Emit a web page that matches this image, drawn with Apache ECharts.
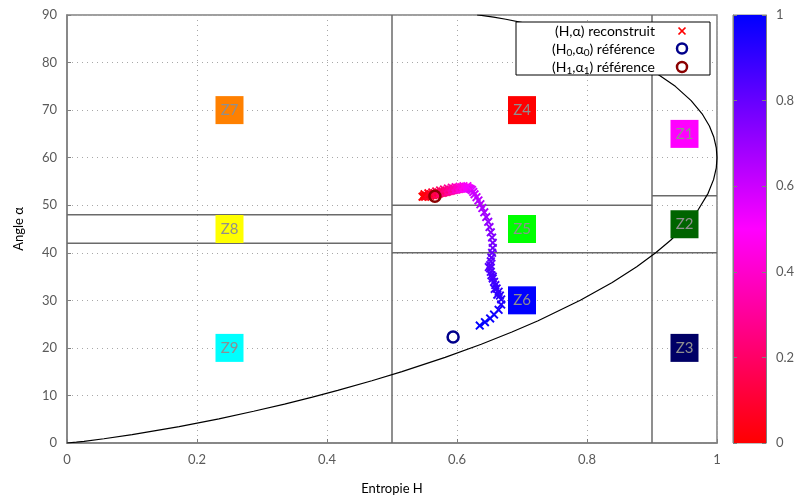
<!DOCTYPE html>
<html><head><meta charset="utf-8">
<script src="https://cdn.jsdelivr.net/npm/echarts@6/dist/echarts.min.js"></script>
<style>html,body{margin:0;padding:0;background:#fff}#c{width:798px;height:500px}</style>
</head><body><div id="c"></div>
<script>
// ---- data ----
const xTicks = [0, 0.2, 0.4, 0.6, 0.8, 1];
const yTicks = [0, 10, 20, 30, 40, 50, 60, 70, 80, 90];
const cbTicks = [0, 0.2, 0.4, 0.6, 0.8, 1];

// zone boundaries: [H1, A1, H2, A2]
const zoneSegments = [
  [0.5, 0, 0.5, 90],
  [0.9, 0, 0.9, 90],
  [0, 48, 0.5, 48],
  [0, 42, 0.5, 42],
  [0.5, 50, 0.9, 50],
  [0.5, 40, 0.9, 40],
  [0.9, 52, 1, 52],
  [0.9, 40, 1, 40]
];

// feasible-region boundary curve
const curveH = [0, 0.0144, 0.0262, 0.0568, 0.1002, 0.1726, 0.2337, 0.2871, 0.3347, 0.3775, 0.4165, 0.4690, 0.5153, 0.5817, 0.6373, 0.6845, 0.7248, 0.7897, 0.8388, 0.8765, 0.9057, 0.9286, 0.9464, 0.9713, 0.9863, 0.9947, 0.9989, 1.0,
                0.9989, 0.9952, 0.9883, 0.9771, 0.9602, 0.9359, 0.9011, 0.8509, 0.8096, 0.7752, 0.7324, 0.7065, 0.6752, 0.6563, 0.6375, 0.6309];
const curveA = [0, 0.18, 0.36, 0.89, 1.76, 3.46, 5.09, 6.67, 8.18, 9.64, 11.05, 13.08, 15.0, 18.0, 20.77, 23.33, 25.71, 30.0, 33.75, 37.06, 40.0, 42.63, 45.0, 49.09, 52.5, 55.38, 57.86, 60.0,
                62.07, 64.29, 66.67, 69.23, 72.0, 75.0, 78.26, 81.82, 84.11, 85.71, 87.38, 88.24, 89.11, 89.55, 89.91, 90.0];

// zone labels
const zoneNames = ['Z1', 'Z2', 'Z3', 'Z4', 'Z5', 'Z6', 'Z7', 'Z8', 'Z9'];
const zoneH = [0.95, 0.95, 0.95, 0.70, 0.70, 0.70, 0.25, 0.25, 0.25];
const zoneA = [65, 46, 20, 70, 45, 30, 70, 45, 20];
const zoneColors = ['#ff00ff', '#006400', '#000066', '#ff0000', '#00ff00', '#0000ff', '#ff8000', '#ffff00', '#00ffff'];

// reconstructed trajectory (H, alpha, colour parameter)
const trajH = [0.547, 0.549, 0.551, 0.553, 0.555, 0.557, 0.559, 0.561, 0.563, 0.565, 0.567, 0.569, 0.571, 0.573, 0.575, 0.577, 0.579, 0.581, 0.583, 0.585,
  0.587, 0.589, 0.591, 0.593, 0.595, 0.597, 0.599, 0.601, 0.603, 0.605, 0.607, 0.609, 0.611, 0.613, 0.615, 0.617, 0.619, 0.621, 0.623, 0.625,
  0.627, 0.630, 0.633, 0.636, 0.639, 0.642, 0.645, 0.648, 0.650, 0.652, 0.654, 0.655, 0.655, 0.654,
  0.653, 0.652, 0.651, 0.651, 0.652, 0.653, 0.655, 0.657, 0.659, 0.661, 0.664, 0.666, 0.668,
  0.649, 0.655, 0.658, 0.662,
  0.668, 0.664, 0.657, 0.651, 0.643, 0.635,
  0.550, 0.556, 0.562, 0.568, 0.574, 0.580, 0.586, 0.592, 0.598, 0.604, 0.610, 0.616];
const trajA = [51.8, 51.9, 51.8, 52.0, 51.9, 52.1, 52.0, 52.2, 52.1, 52.3, 52.2, 52.4, 52.4, 52.5, 52.6, 52.6, 52.7, 52.8, 52.8, 52.9,
  53.0, 53.0, 53.1, 53.2, 53.2, 53.3, 53.3, 53.4, 53.4, 53.5, 53.5, 53.6, 53.6, 53.6, 53.6, 53.6, 53.5, 53.4, 53.2, 52.8,
  52.3, 51.7, 51.0, 50.2, 49.4, 48.5, 47.5, 46.5, 45.4, 44.3, 43.2, 42.1, 41.0, 40.0,
  39.0, 38.2, 37.4, 36.7, 36.0, 35.3, 34.6, 33.9, 33.2, 32.5, 31.8, 31.0, 30.2,
  37.0, 35.0, 32.4, 31.2,
  29.1, 28.0, 27.0, 26.2, 25.4, 24.7,
  52.3, 52.5, 52.7, 52.9, 53.1, 53.3, 53.5, 53.7, 53.8, 53.9, 54.0, 54.0];
const trajT = [0.000, 0.015, 0.030, 0.045, 0.060, 0.075, 0.090, 0.105, 0.120, 0.135, 0.150, 0.165, 0.180, 0.195, 0.210, 0.225, 0.240, 0.255, 0.270, 0.285,
  0.300, 0.315, 0.330, 0.345, 0.360, 0.375, 0.390, 0.405, 0.420, 0.435, 0.450, 0.465, 0.480, 0.495, 0.510, 0.525, 0.540, 0.555, 0.570, 0.585,
  0.600, 0.615, 0.630, 0.645, 0.660, 0.675, 0.690, 0.705, 0.720, 0.735, 0.750, 0.765, 0.780, 0.795,
  0.805, 0.815, 0.825, 0.835, 0.845, 0.855, 0.865, 0.875, 0.885, 0.895, 0.905, 0.915, 0.925,
  0.830, 0.850, 0.890, 0.910,
  0.940, 0.955, 0.970, 0.980, 0.990, 1.000,
  0.020, 0.065, 0.110, 0.155, 0.200, 0.245, 0.290, 0.335, 0.380, 0.425, 0.470, 0.515];

// reference points
const ref0 = [0.594, 22.3];
const ref1 = [0.566, 51.9];

// ---- chart ----
const FONT = 'Lato, "Open Sans", sans-serif';
const GREY = '#808080';
const chart = echarts.init(document.getElementById('c'), null, { renderer: 'canvas' });

const crossPath = 'path://M0,1.5L1.5,0L5,3.5L8.5,0L10,1.5L6.5,5L10,8.5L8.5,10L5,6.5L1.5,10L0,8.5L3.5,5Z';

const series = [];
zoneSegments.forEach(s => {
  series.push({
    type: 'line', xAxisIndex: 0, yAxisIndex: 0, silent: true, symbol: 'none', z: 2,
    data: [[s[0], s[1]], [s[2], s[3]]],
    lineStyle: { color: '#6a6a6a', width: 1.5 }
  });
});
series.push({
  type: 'line', xAxisIndex: 0, yAxisIndex: 0, silent: true, symbol: 'none', z: 3,
  data: curveH.map((h, i) => [h, curveA[i]]),
  lineStyle: { color: '#000', width: 1.2 }
});
series.push({
  type: 'scatter', xAxisIndex: 0, yAxisIndex: 0, silent: true, z: 4,
  symbol: 'rect', symbolSize: [28, 28],
  data: zoneNames.map((n, i) => ({ name: n, value: [zoneH[i], zoneA[i]], itemStyle: { color: zoneColors[i], opacity: 1 } })),
  itemStyle: { opacity: 1 },
  label: { show: true, position: 'inside', formatter: '{b}', color: '#8f8f8f', fontSize: 15, fontFamily: FONT }
});
const trajIndex = series.length;
series.push({
  type: 'scatter', xAxisIndex: 0, yAxisIndex: 0, silent: true, z: 5,
  symbol: crossPath, symbolSize: 9,
  itemStyle: { opacity: 1 },
  data: trajH.map((h, i) => [h, trajA[i], trajT[i]])
});
series.push({
  type: 'scatter', xAxisIndex: 0, yAxisIndex: 0, silent: true, z: 6,
  symbol: 'circle', symbolSize: 11,
  data: [ref0],
  itemStyle: { color: 'rgba(0,0,0,0)', borderColor: '#00008b', borderWidth: 2.5, opacity: 1 }
});
series.push({
  type: 'scatter', xAxisIndex: 0, yAxisIndex: 0, silent: true, z: 6,
  symbol: 'circle', symbolSize: 11,
  data: [ref1],
  itemStyle: { color: 'rgba(0,0,0,0)', borderColor: '#8b0000', borderWidth: 2.5, opacity: 1 }
});
// colour bar
series.push({
  type: 'bar', xAxisIndex: 1, yAxisIndex: 1, silent: true, barWidth: '100%',
  data: [cbTicks[cbTicks.length - 1]],
  itemStyle: {
    color: { type: 'linear', x: 0, y: 1, x2: 0, y2: 0, colorStops: [
      { offset: 0, color: '#ff0000' }, { offset: 0.5, color: '#ff00ff' }, { offset: 1, color: '#0000ff' }] }
  }
});

const legendText = { fontSize: 14, fontFamily: FONT, fill: '#000', align: 'right', verticalAlign: 'middle' };
const subRich = { s: { fontSize: 10, fontFamily: FONT, padding: [8, 0, 0, 0] } };

const option = {
  backgroundColor: '#fff',
  animation: false,
  grid: [
    { left: 67, right: 81, top: 15, bottom: 57, show: true, borderColor: GREY, borderWidth: 1.5, backgroundColor: 'transparent' },
    { left: 733, width: 33, top: 15, bottom: 57, show: true, borderColor: GREY, borderWidth: 1, backgroundColor: 'transparent' }
  ],
  xAxis: [
    {
      gridIndex: 0, type: 'value', min: xTicks[0], max: xTicks[xTicks.length - 1], interval: 0.2,
      axisLine: { show: true, lineStyle: { color: GREY, width: 1.5 } },
      axisTick: { show: true, inside: true, length: 4, lineStyle: { color: GREY } },
      axisLabel: { color: '#5a5a5a', fontSize: 13, fontFamily: FONT, margin: 10 },
      splitLine: { show: true, lineStyle: { type: [1, 4], color: '#a8a8a8', width: 1 } },
      name: 'Entropie H', nameLocation: 'middle', nameGap: 39,
      nameTextStyle: { color: '#000', fontSize: 13, fontFamily: FONT }
    },
    { gridIndex: 1, type: 'category', data: ['c'], show: false }
  ],
  yAxis: [
    {
      gridIndex: 0, type: 'value', min: yTicks[0], max: yTicks[yTicks.length - 1], interval: 10,
      axisLine: { show: true, lineStyle: { color: GREY, width: 1.5 } },
      axisTick: { show: true, inside: true, length: 4, lineStyle: { color: GREY } },
      axisLabel: { color: '#5a5a5a', fontSize: 13, fontFamily: FONT, margin: 10 },
      splitLine: { show: true, lineStyle: { type: [1, 4], color: '#a8a8a8', width: 1 } },
      name: 'Angle α', nameLocation: 'middle', nameGap: 42, nameRotate: 90,
      nameTextStyle: { color: '#000', fontSize: 13, fontFamily: FONT }
    },
    {
      gridIndex: 1, type: 'value', position: 'right', min: cbTicks[0], max: cbTicks[cbTicks.length - 1], interval: 0.2,
      axisLine: { show: true, lineStyle: { color: GREY, width: 1 } },
      axisTick: { show: true, inside: true, length: 4, lineStyle: { color: GREY } },
      axisLabel: { color: '#5a5a5a', fontSize: 13, fontFamily: FONT, margin: 10 },
      splitLine: { show: false }, z: 5
    },
    {
      gridIndex: 1, type: 'value', position: 'left', min: cbTicks[0], max: cbTicks[cbTicks.length - 1], interval: 0.2,
      axisLine: { show: true, lineStyle: { color: GREY, width: 1 } },
      axisTick: { show: true, inside: true, length: 4, lineStyle: { color: GREY } },
      axisLabel: { show: false },
      splitLine: { show: false }, z: 5
    }
  ],
  visualMap: [{
    type: 'continuous', show: false, seriesIndex: trajIndex, dimension: 2, min: 0, max: 1,
    inRange: { color: ['#ff0000', '#ff00ff', '#0000ff'], opacity: 1 }
  }],
  series: series,
  graphic: [
    { type: 'rect', z: 100, shape: { x: 516, y: 22, width: 194, height: 53 }, style: { fill: '#fff', stroke: '#000', lineWidth: 1 } },
    { type: 'text', z: 101, x: 655, y: 31, style: Object.assign({ text: '(H,α) reconstruit' }, legendText) },
    { type: 'text', z: 101, x: 655, y: 49, style: Object.assign({ text: '(H{s|0},α{s|0}) référence', rich: subRich }, legendText) },
    { type: 'text', z: 101, x: 655, y: 67, style: Object.assign({ text: '(H{s|1},α{s|1}) référence', rich: subRich }, legendText) },
    { type: 'line', z: 101, shape: { x1: 678.5, y1: 27.5, x2: 685.5, y2: 34.5 }, style: { stroke: '#ff0000', lineWidth: 1.7 } },
    { type: 'line', z: 101, shape: { x1: 685.5, y1: 27.5, x2: 678.5, y2: 34.5 }, style: { stroke: '#ff0000', lineWidth: 1.7 } },
    { type: 'circle', z: 101, shape: { cx: 682, cy: 48.5, r: 5 }, style: { fill: null, stroke: '#00008b', lineWidth: 2.5 } },
    { type: 'circle', z: 101, shape: { cx: 682, cy: 67, r: 5 }, style: { fill: null, stroke: '#8b0000', lineWidth: 2.5 } }
  ]
};
chart.setOption(option);
</script>
</body></html>
